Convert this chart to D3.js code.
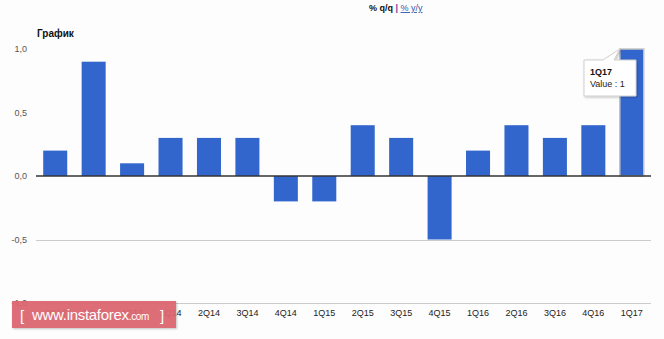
<!DOCTYPE html>
<html>
<head>
<meta charset="utf-8">
<script src="https://cdn.jsdelivr.net/npm/d3@7"></script>
<style>
  html, body { margin: 0; padding: 0; background: #fdfdfd; }
  svg { display: block; font-family: Arial, "Liberation Sans", sans-serif; }
</style>
</head>
<body>
<svg id="chart" width="664" height="339"></svg>
<script>
// Quarterly change, % q/q
const quarters = ["2Q13","3Q13","4Q13","1Q14","2Q14","3Q14","4Q14","1Q15",
                  "2Q15","3Q15","4Q15","1Q16","2Q16","3Q16","4Q16","1Q17"];
const values = [0.2, 0.9, 0.1, 0.3, 0.3, 0.3, -0.2, -0.2,
                0.4, 0.3, -0.5, 0.2, 0.4, 0.3, 0.4, 1.0];
const yTicks = [1, 0.5, 0, -0.5, -1];
const yTickLabels = ["1,0", "0,5", "0,0", "-0,5", "-1,0"];
const gridTicks = [-0.5, -1];
const highlighted = "1Q17";

const svg = d3.select("#chart");

const x = d3.scaleBand().domain(quarters).range([36, 651])
  .paddingInner(0.375).paddingOuter(0.1875);
const y = d3.scaleLinear().domain([-1, 1]).range([303, 49]);

// header
const head = svg.append("text").attr("x", 369).attr("y", 11)
  .attr("font-size", 9).attr("font-weight", "bold");
head.append("tspan").attr("fill", "#111").text("% q/q ");
head.append("tspan").attr("fill", "#7a3a9a").text("| ");
head.append("tspan").attr("fill", "#3355aa").attr("text-decoration", "underline")
  .attr("font-weight", "normal").text("% y/y");

svg.append("text").attr("x", 37).attr("y", 37)
  .attr("font-size", 10).attr("font-weight", "bold").attr("fill", "#111")
  .text("График");

// gridlines
svg.append("g").selectAll("line").data(gridTicks).join("line")
  .attr("x1", 36).attr("x2", 651)
  .attr("y1", d => Math.round(y(d)) + 0.5).attr("y2", d => Math.round(y(d)) + 0.5)
  .attr("stroke", "#cccccc").attr("stroke-width", 1);

// y labels
svg.append("g").selectAll("text").data(yTicks).join("text")
  .attr("x", 27).attr("y", d => y(d) + 3)
  .attr("text-anchor", "end").attr("font-size", 9).attr("fill", "#555")
  .text((d, i) => yTickLabels[i]);

// bars
svg.append("g").selectAll("rect").data(quarters).join("rect")
  .attr("x", d => x(d))
  .attr("width", x.bandwidth())
  .attr("y", (d, i) => y(Math.max(0, values[i])))
  .attr("height", (d, i) => Math.abs(y(values[i]) - y(0)))
  .attr("fill", "#3366cc")
  .attr("stroke", d => d === highlighted ? "#c4c4c4" : "none")
  .attr("stroke-width", 1.5);

// zero line
svg.append("line").attr("x1", 36).attr("x2", 651)
  .attr("y1", y(0)).attr("y2", y(0))
  .attr("stroke", "#333").attr("stroke-width", 1.3);

// x labels
svg.append("g").selectAll("text").data(quarters).join("text")
  .attr("x", d => x(d) + x.bandwidth() / 2).attr("y", 316)
  .attr("text-anchor", "middle").attr("font-size", 9).attr("fill", "#222")
  .text(d => d);

// tooltip for the highlighted bar
const hi = quarters.indexOf(highlighted);
const tipX = x(highlighted), tipY = y(values[hi]);
const tip = svg.append("g");
const defs = svg.append("defs");
const f = defs.append("filter").attr("id", "sh").attr("x", "-20%").attr("y", "-20%")
  .attr("width", "150%").attr("height", "150%");
f.append("feDropShadow").attr("dx", 1).attr("dy", 1).attr("stdDeviation", 1)
  .attr("flood-color", "#000").attr("flood-opacity", 0.25);
tip.append("path")
  .attr("d", `M584,60 H603 L${tipX},${tipY} L614,60 H636 V96 H584 Z`)
  .attr("fill", "#fff").attr("stroke", "#cfcfcf").attr("stroke-width", 1)
  .attr("filter", "url(#sh)");
tip.append("text").attr("x", 590).attr("y", 75)
  .attr("font-size", 9).attr("font-weight", "bold").attr("fill", "#111").text(highlighted);
tip.append("text").attr("x", 590).attr("y", 87)
  .attr("font-size", 9).attr("fill", "#222").text("Value : " + values[hi]);

// site badge
const badge = svg.append("g");
badge.append("rect").attr("x", 12).attr("y", 301).attr("width", 164).attr("height", 27)
  .attr("fill", "#dc666f").attr("opacity", 0.95).attr("filter", "url(#sh)");
badge.append("text").attr("x", 20).attr("y", 321).attr("fill", "#fff")
  .attr("font-size", 15).text("[");
const bt = badge.append("text").attr("x", 32).attr("y", 320).attr("fill", "#fff")
  .attr("letter-spacing", -0.3);
bt.append("tspan").attr("font-size", 15).text("www.instaforex");
bt.append("tspan").attr("font-size", 10).text(".com");
badge.append("text").attr("x", 160).attr("y", 321).attr("fill", "#fff")
  .attr("font-size", 15).text("]");
</script>
</body>
</html>
